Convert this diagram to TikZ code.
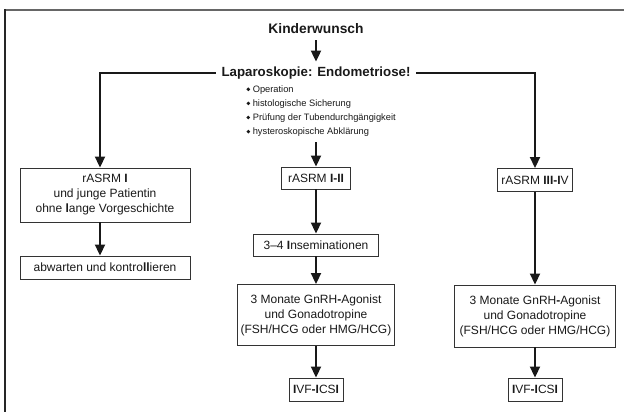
\documentclass[tikz,border=0pt]{standalone}
\usepackage{fontspec}
\setmainfont{Liberation Sans}
\usetikzlibrary{arrows.meta}
\begin{document}
\begin{tikzpicture}[x=1pt,y=-1pt,
  box/.style={draw=black!80, line width=0.9pt, inner sep=0pt, align=center, font=\fontsize{12}{15}\selectfont, text=black!90},
  arr/.style={line width=1.9pt, draw=black!90, -{Triangle[length=11pt,width=10pt]}},
  bul/.style={anchor=base west, inner sep=0pt, font=\fontsize{9.3}{11}\selectfont, text=black!90},
  dot/.style={fill=black!90},
  ttl/.style={text=black!90}
]
\useasboundingbox (0,0) rectangle (624,412);
\draw[line width=2pt, black!60] (4,10) -- (624,10);
\draw[line width=2pt, black!85] (5,9) -- (5,412);

\node[ttl, font=\bfseries\fontsize{13.8}{16}\selectfont, inner sep=0pt] (kw) at (316,29) {Kinderwunsch};
\node[ttl, font=\bfseries\fontsize{13.3}{16}\selectfont, inner xsep=5.5pt, inner ysep=5pt] (lap) at (316,73) {Laparoskopie: Endometriose!};

\foreach \y in {92.6,106.7,120.8,134.9} \fill[dot] (248.3,\y-3.3) circle (1.9pt);
\node[bul] (b1) at (252.6,92.6) {Operation};
\node[bul] (b2) at (252.6,106.7) {histologische Sicherung};
\node[bul] (b3) at (252.6,120.8) {Prüfung der Tubendurchgängigkeit};
\node[bul] (b4) at (252.6,134.9) {hysteroskopische Abklärung};
\coordinate (cb) at (316,142);

% left column
\node[box, minimum width=170pt, minimum height=54pt] (rI) at (105,195) {rASRM \textbf{I}\\und junge Patientin\\ohne \textbf{l}ange Vorgeschichte};
\node[box, minimum width=170pt, minimum height=23pt] (abw) at (105,267.5) {abwarten und kontro\textbf{ll}ieren};

% center column
\node[box, minimum width=69pt, minimum height=22pt] (r12) at (316,178) {rASRM \textbf{I-II}};
\node[box, minimum width=125pt, minimum height=22pt] (ins) at (316,245) {3–4 \textbf{I}nseminationen};
\node[box, minimum width=157pt, minimum height=61pt] (gc) at (316,315) {3 Monate GnRH\textbf{-}Agonist\\und Gonadotropine\\(FSH/HCG oder HMG/HCG)};
\node[box, minimum width=54pt, minimum height=23pt] (ivc) at (316,389.5) {\textbf{I}VF\textbf{-I}CS\textbf{I}};

% right column
\node[box, minimum width=75pt, minimum height=23pt] (r34) at (535,180) {rASRM \textbf{III-I}V};
\node[box, minimum width=161pt, minimum height=62pt] (gr) at (535,316) {3 Monate GnRH\textbf{-}Agonist\\und Gonadotropine\\(FSH/HCG oder HMG/HCG)};
\node[box, minimum width=54pt, minimum height=23pt] (ivr) at (535,389.5) {\textbf{I}VF\textbf{-I}CS\textbf{I}};

% connectors
\draw[arr, shorten <=6pt] (kw) -- (lap);
\draw[arr] (lap.west) -| ([xshift=-5pt]rI.north);
\draw[arr] ([xshift=-5pt]rI.south) -- ([xshift=-5pt]abw.north);
\draw[arr] (lap.east) -| (r34.north);
\draw[arr] (cb) -- (r12);
\draw[arr] (r12) -- (ins);
\draw[arr] (ins) -- (gc);
\draw[arr] (gc) -- (ivc);
\draw[arr] (r34) -- (gr);
\draw[arr] (gr) -- (ivr);
\end{tikzpicture}
\end{document}
